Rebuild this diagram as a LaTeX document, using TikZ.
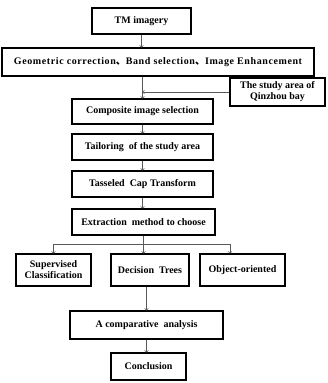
\documentclass[tikz,border=0pt]{standalone}
\usepackage{fontspec}
\setmainfont{Liberation Serif}
\newfontfamily\cjk{Noto Sans CJK SC}
\begin{document}
\begin{tikzpicture}[x=1pt,y=-1pt,font=\fontsize{10}{11}\selectfont\bfseries,
  box/.style={draw, line width=1.1pt, inner sep=1pt, align=center},
  arr/.style={->, draw=black!65, line width=0.6pt}]
  \useasboundingbox (0,0) rectangle (327,383);

  \node[box, minimum width=99pt, minimum height=26pt] (tm) at (141.5,21) {TM imagery};
  \node[box, minimum width=312pt, minimum height=28pt] (geo) at (158,62)
    {\addfontfeature{LetterSpace=6}Geometric correction{\cjk 、}Band selection{\cjk 、}Image Enhancement};
  \node[box, minimum width=95pt, minimum height=28pt] (area) at (277.5,92)
    {The study area of\\Qinzhou bay};
  \node[box, minimum width=141pt, minimum height=25pt] (sel) at (142.5,111.5) {Composite image selection};
  \node[box, minimum width=141pt, minimum height=26pt] (cut) at (142.5,147) {Tailoring\ \ of the study area};
  \node[box, minimum width=141pt, minimum height=26pt] (tct) at (142.5,184) {Tasseled\ \ Cap Transform};
  \node[box, minimum width=143pt, minimum height=26pt] (ext) at (143.5,222) {Extraction\ \ method to choose};

  \node[box, minimum width=75pt, minimum height=32pt] (sup) at (53.5,270) {Supervised\\Classification};
  \node[box, minimum width=78pt, minimum height=32pt] (dt) at (150,270) {Decision\ \ Trees};
  \node[box, minimum width=85pt, minimum height=32pt] (obj) at (242.5,270) {Object-oriented};

  \node[box, minimum width=153pt, minimum height=28pt] (cmp) at (146.5,325) {A comparative\ \ analysis};
  \node[box, minimum width=75pt, minimum height=27pt] (con) at (148.5,366.5) {Conclusion};

  \coordinate (br) at (143.5,244);
  \coordinate (objin) at (230,244);

  \draw[arr] (tm.south) -- (tm.south |- geo.north);
  \draw[arr] (sel.north |- geo.south) -- (sel.north);
  \draw[arr] (area.west) -- (area.west -| sel.north);
  \draw[arr] (sel.south) -- (cut.north);
  \draw[arr] (cut.south) -- (tct.north);
  \draw[arr] (tct.south) -- (ext.north -| tct.south);
  \draw[draw=black!65, line width=0.6pt] (ext.south) -- (br);
  \draw[draw=black!65, line width=0.6pt] (br -| sup.north) -- (objin);
  \draw[arr] (br -| sup.north) -- (sup.north);
  \draw[arr] (br) -- (br |- dt.north);
  \draw[arr] (objin) -- (objin |- obj.north);
  \draw[arr] (cmp.north |- dt.south) -- (cmp.north);
  \draw[arr] (cmp.south) -- (cmp.south |- con.north);
\end{tikzpicture}
\end{document}
